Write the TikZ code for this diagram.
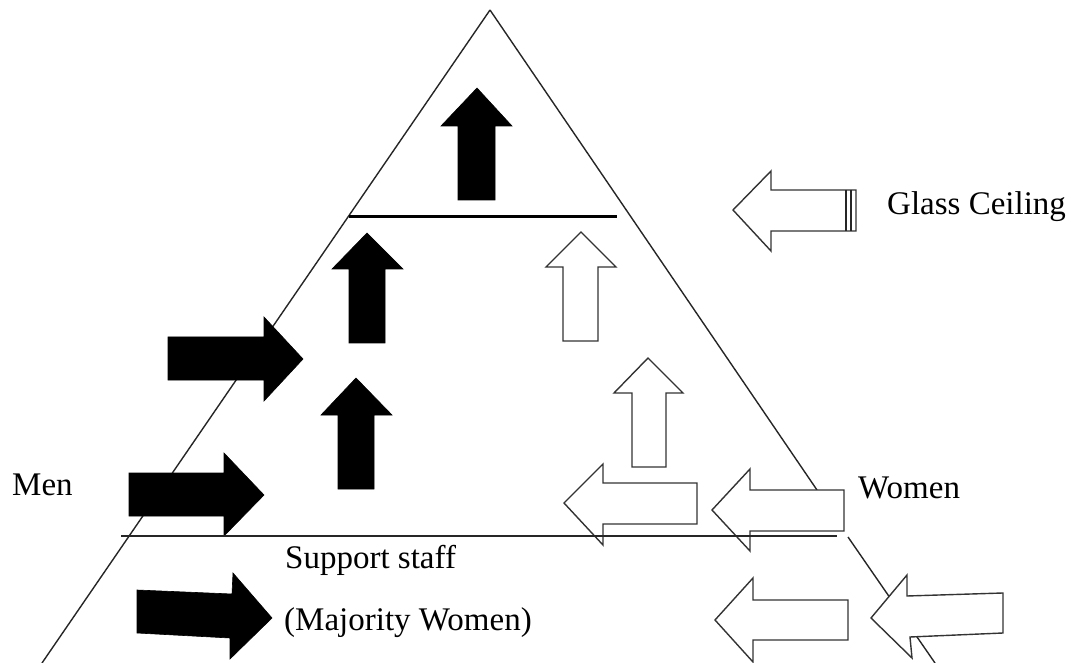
\documentclass[tikz,border=0pt]{standalone}
\usepackage{fontspec}
\setmainfont{Liberation Serif}
\begin{document}
\begin{tikzpicture}[x=1pt,y=-1pt,
  edge/.style={line width=1.4pt,black!85},
  blackarrow/.style={fill=black,draw=black,line width=0.6pt,line join=miter},
  whitearrow/.style={fill=white,draw=black!80,line width=1.4pt,line join=miter},
  lbl/.style={inner sep=0pt,anchor=base west,font=\fontsize{33}{40}\selectfont}]
\useasboundingbox (0,0) rectangle (1072,663);
% triangle
\coordinate (apex) at (490,10);
\coordinate (bl) at (42,663);
\coordinate (r1) at (817,490);
\coordinate (r2) at (848,537);
\coordinate (br) at (935,663);
\draw[edge] (apex) -- (bl);
\draw[edge] (apex) -- (r1);
\draw[edge] (r2) -- (br);
% ceiling line
\coordinate (c1) at (349,217);
\coordinate (c2) at (617,217);
\draw[line width=3pt] (c1) -- (c2);
% black up arrows
\draw[blackarrow] (477,88) -- (512,126) -- (495,126) -- (495,200) -- (458,200) -- (458,126) -- (441,126) -- cycle;
\draw[blackarrow] (367,233) -- (403,269) -- (385,269) -- (385,343) -- (349,343) -- (349,269) -- (332,269) -- cycle;
\draw[blackarrow] (356,378) -- (392,415) -- (374,415) -- (374,489) -- (338,489) -- (338,415) -- (321,415) -- cycle;
% white up arrows
\draw[whitearrow] (581,232) -- (616,267) -- (598,267) -- (598,341) -- (563,341) -- (563,267) -- (546,267) -- cycle;
\draw[whitearrow] (648,358) -- (683,393) -- (666,393) -- (666,467) -- (632,467) -- (632,393) -- (614,393) -- cycle;
% black right arrows
\draw[blackarrow] (303,359) -- (264,401) -- (264,380) -- (168,380) -- (168,337) -- (264,337) -- (264,317) -- cycle;
\draw[blackarrow] (264,495) -- (224,536) -- (224,516) -- (129,516) -- (129,473) -- (224,473) -- (224,453) -- cycle;
\draw[blackarrow] (272,618) -- (230,659) -- (230,638) -- (137,633) -- (137,590) -- (232,594) -- (233,573) -- cycle;
% white left arrows
\draw[whitearrow] (564,503) -- (603,464) -- (603,483) -- (697,483) -- (697,524) -- (603,524) -- (603,545) -- cycle;
\draw[whitearrow] (712,510) -- (750,469) -- (750,490) -- (844,490) -- (844,531) -- (750,531) -- (750,551) -- cycle;
\draw[whitearrow] (715,620) -- (753,578) -- (753,600) -- (848,600) -- (848,640) -- (753,640) -- (753,662) -- cycle;
\draw[whitearrow] (871,618) -- (907,575) -- (907,596) -- (1003,593) -- (1003,633) -- (910,637) -- (912,658) -- cycle;
% glass ceiling arrow
\draw[whitearrow] (733,210) -- (771,171) -- (771,190) -- (856,190) -- (856,231) -- (771,231) -- (771,251) -- cycle;
\draw[line width=1.6pt,black!85] (846,190) -- (846,231);
\draw[line width=1.6pt,black!85] (851,190) -- (851,231);
% support line
\coordinate (s1) at (121,536);
\coordinate (s2) at (837,536);
\draw[line width=2pt,black!85] (s1) -- (s2);
% labels
\node[lbl] (glass) at (887,215) {Glass Ceiling};
\node[lbl] (men) at (12,495) {Men};
\node[lbl] (women) at (858,498) {Women};
\node[lbl] (support) at (285,568) {Support staff};
\node[lbl] (majority) at (284,630) {(Majority Women)};
\end{tikzpicture}
\end{document}
